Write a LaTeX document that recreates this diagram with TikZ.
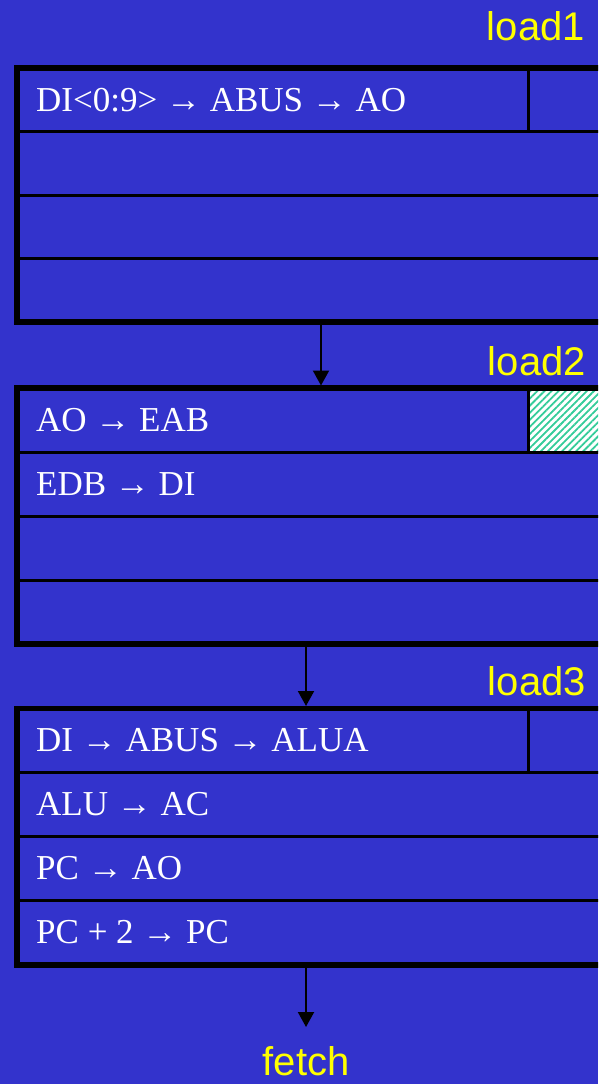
\documentclass[tikz,border=0pt]{standalone}
\usepackage{fontspec}
\setmainfont{Liberation Serif}
\newfontfamily\labelfont{Liberation Sans}
\usetikzlibrary{arrows.meta,patterns.meta}
\definecolor{slideblue}{RGB}{51,51,204}
\definecolor{lblyellow}{RGB}{255,255,0}
\definecolor{hatchgreen}{RGB}{51,204,153}
\tikzset{
  frame/.style={line width=5.5pt, line cap=rect, line join=miter},
  rowline/.style={line width=3pt},
  rowtext/.style={anchor=west, inner sep=0pt, text=white, font=\fontsize{35}{40}\selectfont},
  lbl/.style={inner sep=0pt, text=lblyellow, font=\labelfont\fontsize{40}{44}\selectfont},
  flow/.style={line width=2pt, -{Triangle[length=15pt,width=16pt]}}
}
\begin{document}
\begin{tikzpicture}[x=1pt,y=-1pt]
  \fill[slideblue] (0,0) rectangle (598,1084);
  \useasboundingbox (0,0) rectangle (598,1084);
  \clip (0,0) rectangle (598,1084);
  % block load1
  \draw[frame] (620,68) -- (17,68) -- (17,322) -- (620,322);
  \foreach \y in {131.5,195,258.5} \draw[rowline] (19,\y) -- (620,\y);
  \draw[rowline] (528,70) -- (528,131.5);
  % block load2
  \fill[white] (529,390) rectangle (600,451);
  \fill[pattern={Lines[angle=45,distance=5pt,line width=1.8pt]}, pattern color=hatchgreen] (529,390) rectangle (600,451);
  \draw[frame] (620,388) -- (17,388) -- (17,644) -- (620,644);
  \foreach \y in {452,516,580} \draw[rowline] (19,\y) -- (620,\y);
  \draw[rowline] (528,390) -- (528,452);
  % block load3
  \draw[frame] (620,708.5) -- (17,708.5) -- (17,965) -- (620,965);
  \foreach \y in {772,836,900} \draw[rowline] (19,\y) -- (620,\y);
  \draw[rowline] (528,710) -- (528,772);
  % labels
  \node[lbl, anchor=base east] (load1) at (585,40) {load1};
  \node[lbl, anchor=base east] (load2) at (586,375) {load2};
  \node[lbl, anchor=base east] (load3) at (586,695) {load3};
  \node[lbl, anchor=base] (fetch) at (306,1075) {fetch};
  % row texts
  \node[rowtext] (a1) at (36,100) {DI<0:9> → ABUS → AO};
  \node[rowtext] (b1) at (36,420) {AO → EAB};
  \node[rowtext] (b2) at (36,484) {EDB → DI};
  \node[rowtext] (c1) at (36,740) {DI → ABUS → ALUA};
  \node[rowtext] (c2) at (36,804) {ALU → AC};
  \node[rowtext] (c3) at (36,868) {PC → AO};
  \node[rowtext] (c4) at (36,932) {PC + 2 → PC};
  % arrows between blocks
  \coordinate (s1) at (321,325);
  \coordinate (e1) at (321,385.5);
  \coordinate (s2) at (306,647);
  \coordinate (e2) at (306,706);
  \coordinate (s3) at (306,968);
  \coordinate (e3) at (306,1027);
  \draw[flow] (s1) -- (e1);
  \draw[flow] (s2) -- (e2);
  \draw[flow] (s3) -- (e3);
\end{tikzpicture}
\end{document}
